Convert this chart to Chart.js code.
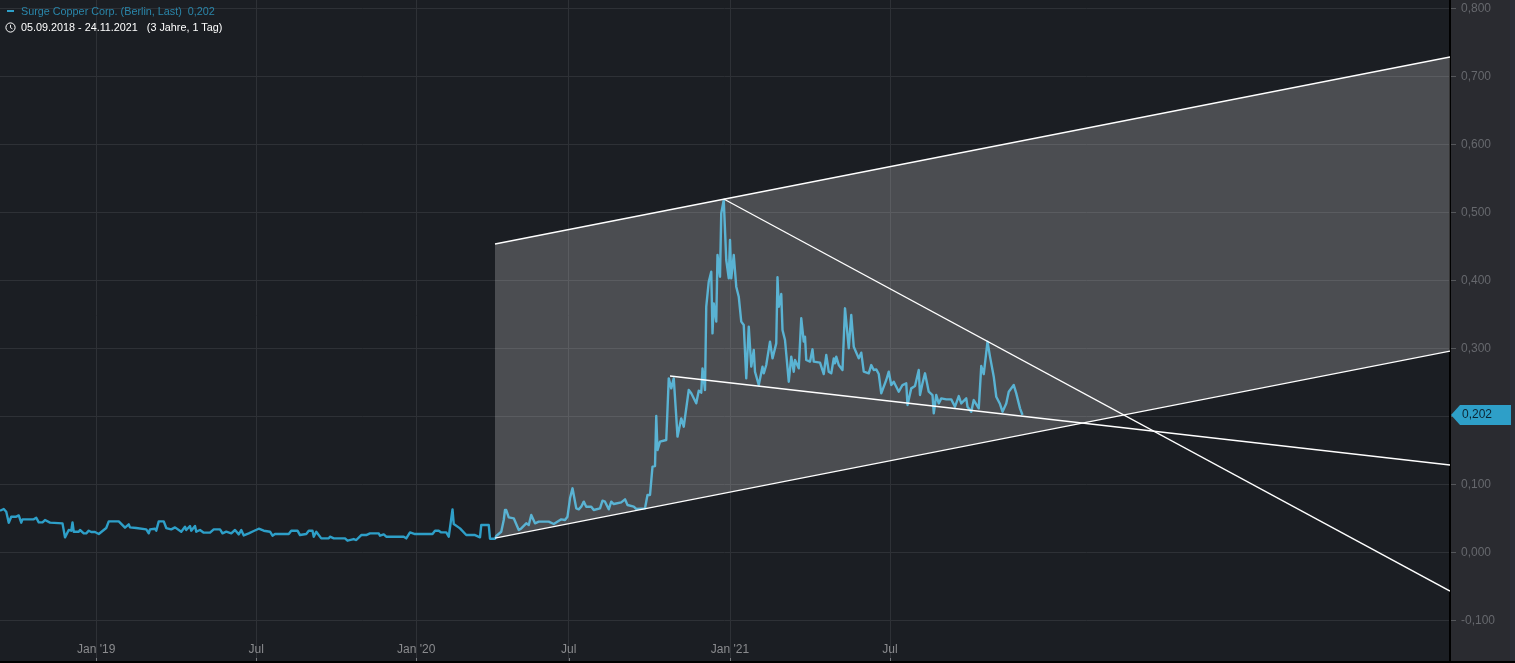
<!DOCTYPE html>
<html lang="de">
<head>
<meta charset="utf-8">
<title>Surge Copper Corp.</title>
<script src="https://cdn.jsdelivr.net/npm/chart.js@4"></script>
<style>
    html, body { margin: 0; padding: 0; background: #000; overflow: hidden; }
    #wrap { position: relative; width: 1515px; height: 663px; }
    #stockChart { position: absolute; left: 0; top: 0; }
    .legend-row {
        position: absolute;
        left: 21px;
        font: 10.8px "Liberation Sans", Arial, sans-serif;
        line-height: 14px;
        white-space: pre;
    }
    #legendName { top: 4px; color: #2a86aa; }
    #legendRange { top: 20px; color: #fff; }
    #legendDash { position: absolute; left: 7px; top: 10px; width: 7px; height: 2px; background: #2e9fc8; }
    #legendClock { position: absolute; left: 5px; top: 22px; }
</style>
</head>
<body>
<div id="wrap">
    <canvas id="stockChart" width="1515" height="661"></canvas>
    <div id="legendDash"></div>
    <div id="legendName" class="legend-row">Surge Copper Corp. (Berlin, Last)  0,202</div>
    <svg id="legendClock" width="11" height="11" viewBox="0 0 11 11">
        <circle cx="5.5" cy="5.5" r="4.6" fill="none" stroke="#fff" stroke-width="1"/>
        <path d="M5.5 2.8V5.7L7.5 6.9" fill="none" stroke="#fff" stroke-width="0.9"/>
    </svg>
    <div id="legendRange" class="legend-row">05.09.2018 - 24.11.2021   (3 Jahre, 1 Tag)</div>
</div>
<script>
// x = Handelstag seit dem linken Rand
const sessions = [
    0, 3, 5, 7, 9, 13, 15, 17, 18, 27, 29, 31, 34, 36, 40, 50, 52, 55, 57, 58,
    59, 63, 64, 67, 69, 71, 73, 76, 79, 83, 85, 87, 95, 100, 103, 104, 109, 117, 119, 120,
    124, 125, 127, 131, 133, 137, 140, 145, 148, 149, 152, 153, 156, 157, 160, 163, 168, 171, 176, 178,
    181, 185, 188, 191, 193, 195, 199, 203, 207, 211, 216, 218, 220, 231, 233, 238, 240, 245, 247, 250,
    251, 253, 257, 263, 264, 267, 276, 278, 283, 285, 289, 293, 296, 303, 304, 307, 309, 323, 325, 328,
    332, 346, 348, 351, 353, 357, 359, 362, 363, 368, 373, 380, 384, 385, 391, 392, 396,
    397, 401, 403, 404, 405, 407, 411, 415, 417, 421, 423, 425, 428, 431, 439, 443, 449, 452, 454,
    456, 458, 461, 463, 465, 467, 469, 473, 475, 480, 482, 484, 487, 489, 491, 497, 500, 502, 507, 509,
    516, 518, 520, 522, 524, 525, 526, 528, 533, 535, 537, 539, 541, 542, 545, 547, 551, 553, 557, 559,
    561, 562, 564,
    565, 567, 569, 570, 571, 573, 574, 576, 577, 579, 581, 583, 584, 585, 587, 589, 591, 593, 595, 597,
    599, 601, 603, 604, 607, 610, 611, 613, 616, 618, 621, 622, 623, 625, 626, 628, 631, 633, 635, 636,
    639, 641, 643, 644, 645, 648, 650, 651, 656, 659, 661, 663, 665, 667, 668, 669, 671, 674, 676, 678,
    679, 681, 683, 687, 689, 691, 695,
    697, 699, 701, 703, 705, 709, 711, 713, 715, 719, 722, 725, 726, 729, 732, 735, 736, 738, 740, 743,
    746, 747, 749, 751, 753, 757, 761, 764, 767, 769, 773, 774, 777, 779, 783, 785, 787, 790, 792, 795,
    797, 800, 802, 805, 807, 811, 813, 816, 818
];
const closes = [
    0.0612, 0.0637, 0.0597, 0.0436, 0.0524, 0.0524, 0.0543, 0.0436, 0.0485, 0.0485, 0.0509, 0.0440, 0.0440, 0.0475, 0.0436, 0.0426, 0.0220, 0.0328, 0.0318, 0.0440,
    0.0303, 0.0303, 0.0328, 0.0279, 0.0279, 0.0318, 0.0298, 0.0298, 0.0269, 0.0328, 0.0357, 0.0455, 0.0455, 0.0362, 0.0411, 0.0367, 0.0357, 0.0338, 0.0279, 0.0338,
    0.0347, 0.0318, 0.0455, 0.0455, 0.0357, 0.0338, 0.0367, 0.0303, 0.0377, 0.0328, 0.0387, 0.0318, 0.0387, 0.0303, 0.0328, 0.0289, 0.0289, 0.0338, 0.0338, 0.0279,
    0.0303, 0.0279, 0.0328, 0.0264, 0.0328, 0.0249, 0.0279, 0.0313, 0.0347, 0.0318, 0.0303, 0.0244, 0.0269, 0.0269, 0.0318, 0.0318, 0.0254, 0.0269, 0.0318, 0.0318,
    0.0230, 0.0303, 0.0205, 0.0205, 0.0230, 0.0205, 0.0205, 0.0171, 0.0195, 0.0181, 0.0254, 0.0254, 0.0279, 0.0279, 0.0244, 0.0264, 0.0230, 0.0230, 0.0205, 0.0293,
    0.0269, 0.0269, 0.0318, 0.0318, 0.0293, 0.0293, 0.0230, 0.0632, 0.0416, 0.0352, 0.0254, 0.0254, 0.0220, 0.0401, 0.0401, 0.0200, 0.0200,
    0.0240, 0.0303, 0.0475, 0.0622, 0.0622, 0.0514, 0.0500, 0.0328, 0.0352, 0.0426, 0.0402, 0.0549, 0.0426, 0.0451, 0.0451, 0.0416, 0.0485, 0.0475, 0.0524,
    0.0794, 0.0941, 0.0647, 0.0632, 0.0671, 0.0745, 0.0671, 0.0671, 0.0622, 0.0647, 0.0759, 0.0745, 0.0632, 0.0745, 0.0710, 0.0735, 0.0779, 0.0696, 0.0671, 0.0637,
    0.0647, 0.0843, 0.0843, 0.1259, 0.1269, 0.2004, 0.1504, 0.1627, 0.1652, 0.2558, 0.2411, 0.2558, 0.1995, 0.1701, 0.1970, 0.1848, 0.2387, 0.2338, 0.2191, 0.2377,
    0.2348, 0.2705, 0.2387,
    0.3612, 0.3980, 0.4127, 0.3220, 0.3661, 0.3392, 0.4372, 0.4053, 0.4985, 0.5181, 0.4299, 0.4029, 0.4593, 0.4029, 0.4372, 0.3906, 0.3759, 0.3392, 0.3343, 0.2558,
    0.3318, 0.2730, 0.2975, 0.2656, 0.2460, 0.2730, 0.2632, 0.2755, 0.3098, 0.2852, 0.3073, 0.4044, 0.3612, 0.3799, 0.3269, 0.3122, 0.2509, 0.2877, 0.2656, 0.2828,
    0.2705, 0.3441, 0.3098, 0.3171, 0.2828, 0.2804, 0.2985, 0.2804, 0.2789, 0.2622, 0.2901, 0.2656, 0.2632, 0.2852, 0.2779, 0.2877, 0.2755, 0.2681, 0.3588, 0.3196,
    0.3000, 0.3490, 0.3024, 0.2852, 0.2936, 0.2656, 0.2632,
    0.2754, 0.2681, 0.2690, 0.2622, 0.2337, 0.2534, 0.2656, 0.2460, 0.2509, 0.2362, 0.2460, 0.2485, 0.2166, 0.2411, 0.2445, 0.2681, 0.2313, 0.2485, 0.2632, 0.2362,
    0.2313, 0.2043, 0.2313, 0.2190, 0.2264, 0.2249, 0.2249, 0.2141, 0.2298, 0.2190, 0.2264, 0.2141, 0.2068, 0.2239, 0.2117, 0.2739, 0.2622, 0.3097, 0.2877, 0.2583,
    0.2288, 0.2181, 0.2068, 0.2190, 0.2362, 0.2460, 0.2337, 0.2117, 0.2019
];

// Trendkanal und Trendlinien (Start, Ende)
const channelTop = [[396, 0.4534], [1160, 0.7284]];
const channelBottom = [[396, 0.021], [1160, 0.296]];
const fallingLine = [[579, 0.5196], [1160, -0.057]];
const flatLine = [[536, 0.2593], [1160, 0.1284]];

const xTickValues = [77, 205, 333, 455, 584, 712];
const xTickLabels = ["Jan '19", 'Jul', "Jan '20", 'Jul', "Jan '21", 'Jul'];
const yTickValues = [-0.1, 0, 0.1, 0.2, 0.3, 0.4, 0.5, 0.6, 0.7, 0.8];
const lastValue = 0.202;

const FONT = '"Liberation Sans", Arial, sans-serif';
const GRID_COLOR = '#2e3136';
const X_AXIS_HEIGHT = 30;

function toPoints(pairs) {
    return pairs.map(([x, y]) => ({ x, y }));
}

function formatPrice(value) {
    return value.toFixed(3).replace('.', ',');
}

// Hintergrund von Chart und Preisachse
const panelPlugin = {
    id: 'panel',
    beforeDraw(chart) {
        const { ctx, chartArea, width, height } = chart;
        ctx.save();
        ctx.fillStyle = '#1b1e23';
        ctx.fillRect(0, 0, chartArea.right, height);
        ctx.fillStyle = '#2a2b30';
        ctx.fillRect(chartArea.right, 0, width - chartArea.right, height);
        ctx.fillStyle = '#2d3038';
        ctx.fillRect(1510, 0, width - 1510, height);
        ctx.restore();
    },
    afterDraw(chart) {
        const { ctx, chartArea, scales, height } = chart;
        ctx.save();

        // Achsenlinie bis zum unteren Rand
        ctx.fillStyle = '#000';
        ctx.fillRect(chartArea.right - 1, chartArea.bottom, 2, height - chartArea.bottom);

        // kleine Striche an der Zeitachse
        ctx.strokeStyle = '#77797d';
        xTickValues.forEach((value) => {
            const x = Math.round(scales.x.getPixelForValue(value)) + 0.5;
            ctx.beginPath();
            ctx.moveTo(x, height - 3);
            ctx.lineTo(x, height);
            ctx.stroke();
        });

        // Kursmarke rechts
        const y = Math.round(scales.y.getPixelForValue(lastValue));
        const left = chartArea.right + 1;
        ctx.fillStyle = '#2e9fc8';
        ctx.beginPath();
        ctx.moveTo(left, y);
        ctx.lineTo(left + 9, y - 10);
        ctx.lineTo(1511, y - 10);
        ctx.lineTo(1511, y + 10);
        ctx.lineTo(left + 9, y + 10);
        ctx.closePath();
        ctx.fill();
        ctx.fillStyle = '#0c2533';
        ctx.font = '12px ' + FONT;
        ctx.textBaseline = 'middle';
        ctx.fillText(formatPrice(lastValue), 1462, y);
        ctx.restore();
    }
};

new Chart(document.getElementById('stockChart'), {
    type: 'line',
    data: {
        datasets: [
            {
                data: sessions.map((x, i) => ({ x, y: closes[i] })),
                borderColor: '#2e9fc8',
                borderWidth: 2.4,
                borderJoinStyle: 'round',
                order: 5
            },
            {
                data: toPoints(channelTop),
                borderColor: '#fff',
                borderWidth: 1.3,
                backgroundColor: 'rgba(255, 255, 255, 0.21)',
                fill: '+1',
                order: 3
            },
            {
                data: toPoints(channelBottom),
                borderColor: '#fff',
                borderWidth: 1.3,
                order: 2
            },
            {
                data: toPoints(fallingLine),
                borderColor: '#fff',
                borderWidth: 1.3,
                order: 1
            },
            {
                data: toPoints(flatLine),
                borderColor: '#fff',
                borderWidth: 1.3,
                order: 1
            }
        ]
    },
    options: {
        responsive: false,
        animation: false,
        layout: { padding: 0 },
        elements: { point: { radius: 0 }, line: { tension: 0 } },
        plugins: {
            legend: { display: false },
            tooltip: { enabled: false },
            filler: { drawTime: 'beforeDatasetDraw' }
        },
        scales: {
            x: {
                type: 'linear',
                min: 0,
                max: 1160,
                afterFit: (scale) => {
                    scale.height = X_AXIS_HEIGHT;
                    scale.paddingLeft = 0;
                    scale.paddingRight = 0;
                },
                afterBuildTicks: (scale) => { scale.ticks = xTickValues.map((value) => ({ value })); },
                // Gitterlinien laufen als lange Ticks durch den Beschriftungsbereich
                grid: { color: GRID_COLOR, tickColor: GRID_COLOR, tickLength: X_AXIS_HEIGHT },
                border: { display: false },
                ticks: {
                    color: '#8a8b8e',
                    font: { family: FONT, size: 12 },
                    padding: -19,
                    maxRotation: 0,
                    autoSkip: false,
                    callback: (value) => xTickLabels[xTickValues.indexOf(value)]
                }
            },
            y: {
                position: 'right',
                min: -0.1157,
                max: 0.8122,
                afterFit: (scale) => {
                    scale.width = 65;
                    scale.paddingTop = 0;
                    scale.paddingBottom = 0;
                },
                afterBuildTicks: (scale) => { scale.ticks = yTickValues.map((value) => ({ value })); },
                grid: { color: GRID_COLOR, tickColor: '#55575b', tickLength: 6 },
                border: { color: '#000', width: 2 },
                ticks: {
                    color: '#66686d',
                    font: { family: FONT, size: 12 },
                    padding: 5,
                    callback: (value) => formatPrice(value)
                }
            }
        }
    },
    plugins: [panelPlugin]
});
</script>
</body>
</html>
